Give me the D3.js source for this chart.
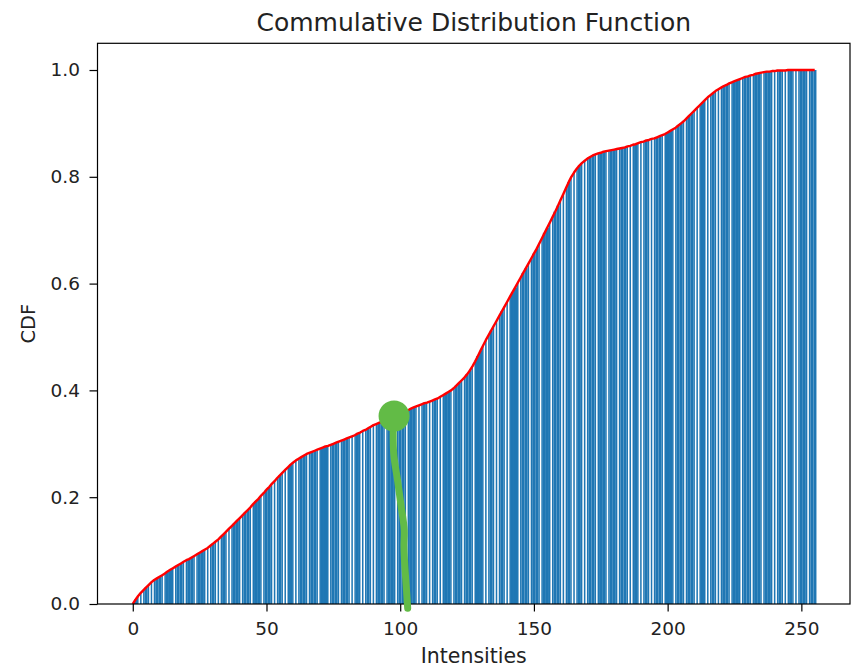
<!DOCTYPE html>
<html>
<head>
<meta charset="utf-8">
<script src="https://d3js.org/d3.v7.min.js"></script>
<style>
  body { margin: 0; background: #fff; }
  svg text { font-family: "DejaVu Sans", sans-serif; fill: #222; }
</style>
</head>
<body>
<svg width="854" height="667"></svg>
<script>
// CDF value for each intensity 0..255
var cdf = [
  0.000, 0.008, 0.015, 0.021, 0.026, 0.031, 0.036, 0.041, 0.045, 0.048, 0.051, 0.054, 0.057, 0.061, 0.064, 0.067,
  0.070, 0.073, 0.076, 0.079, 0.082, 0.084, 0.087, 0.090, 0.093, 0.096, 0.099, 0.102, 0.105, 0.109, 0.113, 0.117,
  0.121, 0.126, 0.131, 0.136, 0.141, 0.146, 0.151, 0.156, 0.161, 0.166, 0.171, 0.176, 0.181, 0.187, 0.192, 0.197,
  0.203, 0.208, 0.214, 0.219, 0.225, 0.230, 0.236, 0.241, 0.246, 0.251, 0.256, 0.261, 0.265, 0.269, 0.272, 0.275,
  0.278, 0.281, 0.283, 0.285, 0.287, 0.289, 0.291, 0.293, 0.295, 0.296, 0.298, 0.300, 0.302, 0.304, 0.306, 0.308,
  0.310, 0.312, 0.314, 0.316, 0.319, 0.321, 0.324, 0.326, 0.329, 0.332, 0.335, 0.337, 0.339, 0.341, 0.343, 0.345,
  0.347, 0.349, 0.352, 0.354, 0.357, 0.359, 0.361, 0.363, 0.366, 0.368, 0.370, 0.372, 0.374, 0.376, 0.377, 0.379,
  0.381, 0.383, 0.385, 0.388, 0.391, 0.394, 0.397, 0.400, 0.404, 0.409, 0.414, 0.419, 0.424, 0.430, 0.437, 0.445,
  0.454, 0.464, 0.474, 0.484, 0.494, 0.503, 0.512, 0.521, 0.530, 0.539, 0.548, 0.557, 0.566, 0.575, 0.584, 0.593,
  0.602, 0.611, 0.620, 0.629, 0.638, 0.647, 0.656, 0.665, 0.675, 0.685, 0.695, 0.705, 0.715, 0.725, 0.735, 0.746,
  0.757, 0.768, 0.779, 0.790, 0.800, 0.808, 0.815, 0.821, 0.826, 0.830, 0.834, 0.837, 0.840, 0.842, 0.844, 0.845,
  0.847, 0.848, 0.849, 0.850, 0.851, 0.852, 0.853, 0.854, 0.855, 0.857, 0.858, 0.860, 0.861, 0.863, 0.865, 0.866,
  0.868, 0.869, 0.871, 0.872, 0.874, 0.876, 0.878, 0.880, 0.883, 0.886, 0.889, 0.892, 0.896, 0.900, 0.904, 0.909,
  0.914, 0.919, 0.924, 0.929, 0.934, 0.939, 0.944, 0.949, 0.953, 0.957, 0.961, 0.964, 0.967, 0.970, 0.972, 0.975,
  0.977, 0.979, 0.981, 0.983, 0.985, 0.987, 0.988, 0.990, 0.991, 0.993, 0.994, 0.995, 0.996, 0.997, 0.997, 0.998,
  0.998, 0.999, 0.999, 0.999, 0.999, 1.000, 1.000, 1.000, 1.000, 1.000, 1.000, 1.000, 1.000, 1.000, 1.000, 1.000
];
var intensities = cdf.map(function(d, i) { return i; });

// tick labels
var xTicks = [0, 50, 100, 150, 200, 250];
var yTicks = [0.0, 0.2, 0.4, 0.6, 0.8, 1.0];

// the green hand-drawn marker, in data units (intensity, cdf)
var markerDot = [97.7, 0.352];
var markerStroke = [[97.4, 0.335], [97.6, 0.28], [99.0, 0.232], [100.3, 0.185], [101.5, 0.139], [101.4, 0.11], [101.6, 0.082], [102.3, 0.03], [102.8, -0.008]];

var svg = d3.select("svg"),
    margin = {top: 43.3, right: 4, bottom: 63, left: 97.5},
    width = +svg.attr("width") - margin.left - margin.right,
    height = +svg.attr("height") - margin.top - margin.bottom;

var g = svg.append("g").attr("transform", "translate(" + margin.left + "," + margin.top + ")");

// matplotlib style limits: bars span -0.4..255.4 plus 5% margin
var x = d3.scaleLinear().domain([-13.19, 268.19]).range([0, width]);
var y = d3.scaleLinear().domain([0, 1.05]).range([height, 0]);

// snap bar edges to a coarse grid (the source was rendered smaller, then scaled up)
var grid = 1.52;
function snap(v) { return Math.round(v / grid) * grid; }

// bars
g.append("g")
  .selectAll("rect")
  .data(intensities)
  .enter()
  .append("rect")
    .attr("x", function(d) { return snap(x(d - 0.4)); })
    .attr("width", function(d) { return snap(x(d + 0.4)) - snap(x(d - 0.4)); })
    .attr("y", function(d) { return y(cdf[d]); })
    .attr("height", function(d) { return y(0) - y(cdf[d]); })
    .attr("fill", "#1f77b4");

// red cdf line
var line = d3.line()
  .x(function(d) { return x(d); })
  .y(function(d) { return y(cdf[d]); });

g.append("path")
  .datum(intensities)
  .attr("d", line)
  .attr("fill", "none")
  .attr("stroke", "#ff0000")
  .attr("stroke-width", 2.4)
  .attr("stroke-linejoin", "round");

// axes
var xAxis = g.append("g")
  .attr("transform", "translate(0," + height + ")")
  .call(d3.axisBottom(x).tickValues(xTicks).tickFormat(d3.format("d")).tickSize(7.5).tickPadding(10));

var yAxis = g.append("g")
  .call(d3.axisLeft(y).tickValues(yTicks).tickFormat(d3.format(".1f")).tickSize(8).tickPadding(9.5));

[xAxis, yAxis].forEach(function(a) {
  a.select(".domain").remove();
  a.selectAll("line").attr("stroke", "#000").attr("stroke-width", 1.2);
  a.selectAll("text").style("font-size", "18.5px").attr("fill", "#222");
});

// frame
g.append("rect")
  .attr("width", width)
  .attr("height", height)
  .attr("fill", "none")
  .attr("stroke", "#000")
  .attr("stroke-width", 1.2);

// green annotation on top
g.append("path")
  .datum(markerStroke)
  .attr("d", d3.line().curve(d3.curveCatmullRom)
    .x(function(d) { return x(d[0]); })
    .y(function(d) { return y(d[1]); }))
  .attr("fill", "none")
  .attr("stroke", "#62bb46")
  .attr("stroke-width", 7)
  .attr("stroke-linecap", "round");

g.append("circle")
  .attr("cx", x(markerDot[0]))
  .attr("cy", y(markerDot[1]))
  .attr("r", 15.5)
  .attr("fill", "#62bb46");

// titles
svg.append("text")
  .attr("x", margin.left + width / 2)
  .attr("y", 31)
  .attr("text-anchor", "middle")
  .style("font-size", "25px")
  .text("Commulative Distribution Function");

svg.append("text")
  .attr("x", margin.left + width / 2)
  .attr("y", 663)
  .attr("text-anchor", "middle")
  .style("font-size", "20.5px")
  .text("Intensities");

svg.append("text")
  .attr("transform", "translate(35," + (margin.top + height / 2) + ") rotate(-90)")
  .attr("text-anchor", "middle")
  .style("font-size", "19.5px")
  .text("CDF");
</script>
</body>
</html>
